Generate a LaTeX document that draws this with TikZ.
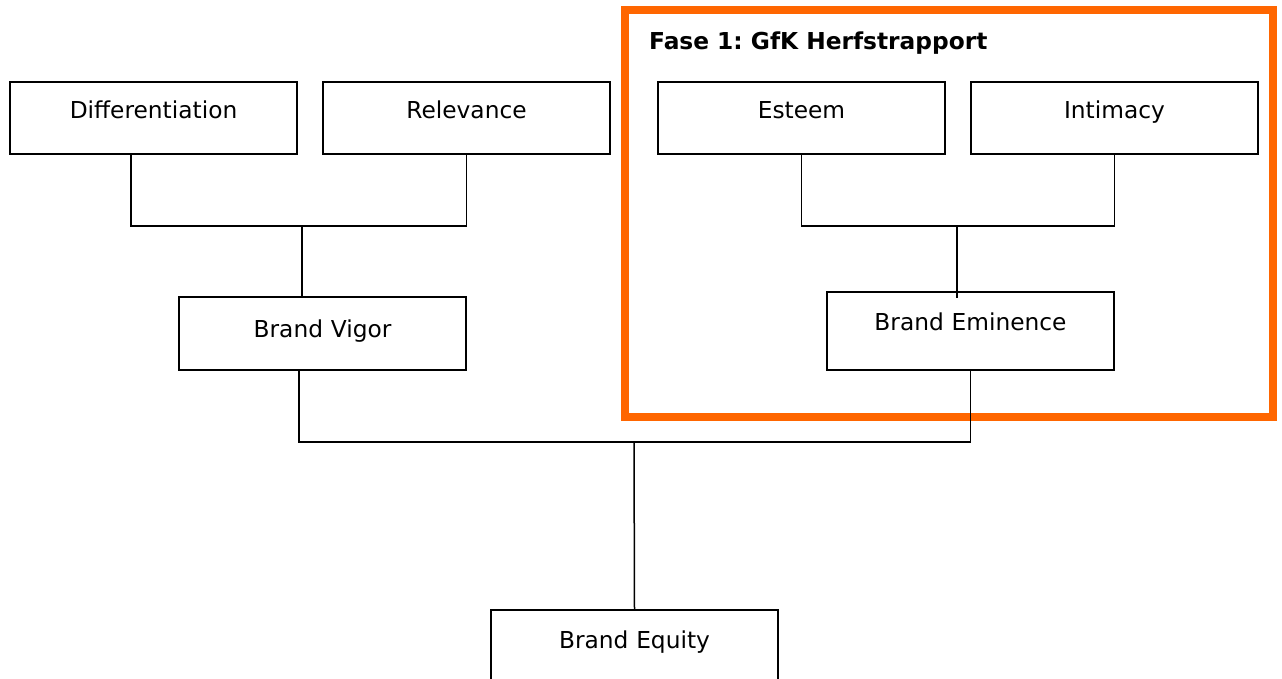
\documentclass[tikz,border=0pt]{standalone}
\usepackage{fontspec}
\setmainfont{DejaVu Sans}
\frenchspacing
\definecolor{fase}{HTML}{FF6600}
\begin{document}
\begin{tikzpicture}[x=1pt,y=-1pt,
  box/.style={draw=black,line width=1.6pt,inner sep=0pt,outer sep=0pt,text width=287pt,align=center,anchor=north west,font=\fontsize{23.3}{27}\selectfont},
  conn/.style={draw=black,line width=1.5pt}]
\useasboundingbox (0,0) rectangle (1282,679);
\clip (0,0) rectangle (1282,679);
% orange frame
\node[draw=fase,line width=8pt,minimum width=648pt,minimum height=407pt,anchor=north west,inner sep=0pt,outer sep=0pt] (frame) at (625,10) {};
\node[anchor=base west,inner sep=0pt,font=\bfseries\fontsize{23.3}{27}\selectfont] (title) at (649,50) {Fase 1: GfK Herfstrapport};
% boxes
\node[box,text height=37pt,text depth=35pt] (diff) at (10,82) {Differentiation};
\node[box,text height=37pt,text depth=35pt] (rel) at (323,82) {Relevance};
\node[box,text height=37pt,text depth=35pt] (est) at (658,82) {Esteem};
\node[box,text height=37pt,text depth=35pt] (int) at (971,82) {Intimacy};
\node[box,text height=40pt,text depth=33pt] (vig) at (179,297) {Brand Vigor};
\node[box,text height=38pt,text depth=40pt] (emi) at (827,292) {Brand Eminence};
\node[box,text height=38pt,text depth=60pt] (equ) at (491,610) {Brand Equity};
% junctions
\coordinate (j1) at (302,226);
\coordinate (j0) at (131,226);
\coordinate (j2) at (299,442);
\coordinate (j3) at (634,442);
\coordinate (j4) at (957,226);
% connectors
\draw[conn] (j0 |- diff.south) -- (j0) -- (rel.south |- j1) -- (rel.south);
\draw[conn] (j1) -- (j1 |- vig.north);
\draw[conn] (est.south) -- (est.south |- j4) -- (int.south |- j4) -- (int.south);
\draw[conn] (j4) -- ([yshift=-6pt]j4 |- emi.north);
\draw[conn] (j2 |- vig.south) -- (j2) -- (emi.south |- j2) -- (emi.south);
\draw[conn] (j3) -- (equ.north);
\end{tikzpicture}
\end{document}
